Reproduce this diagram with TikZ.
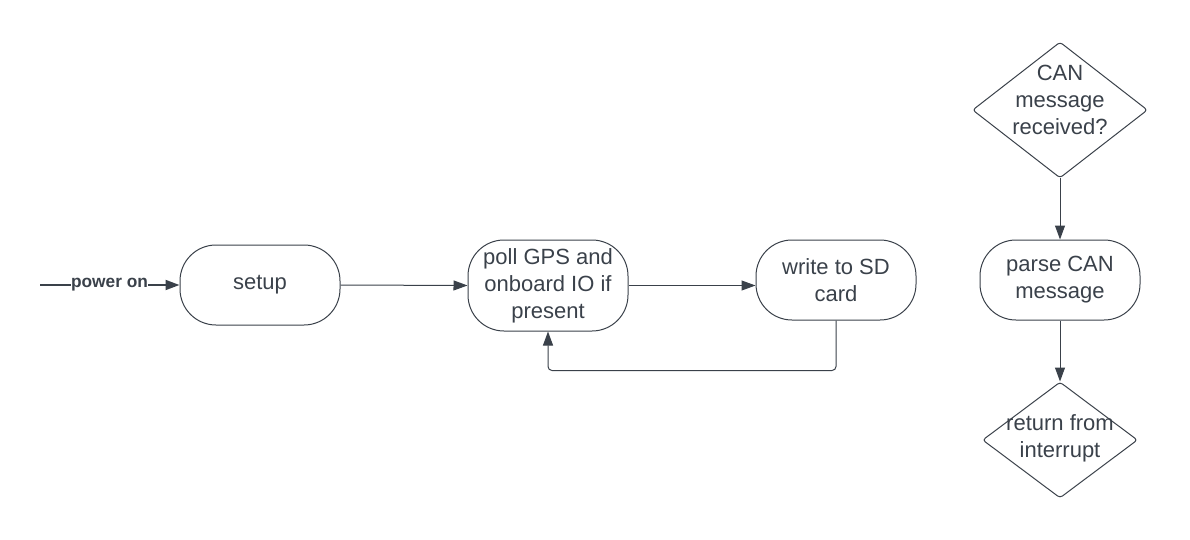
\documentclass[tikz,border=0pt]{standalone}
\usepackage{fontspec}
\setmainfont{Liberation Sans}
\usetikzlibrary{shapes.geometric,arrows.meta}
\definecolor{ink}{HTML}{3A414A}
\tikzset{
  term/.style={draw=ink, line width=1pt, rounded corners=36pt, minimum width=160pt, minimum height=80pt, align=center, inner sep=0pt, font=\fontsize{22}{27}\selectfont, text=ink},
  dec/.style={draw=ink, line width=1pt, diamond, inner sep=0pt, rounded corners=3pt},
  lbl/.style={align=center, inner sep=0pt, font=\fontsize{22}{27}\selectfont, text=ink},
  arr/.style={draw=ink, line width=1pt, -{Triangle[length=14pt,width=10pt]}},
}
\begin{document}
\begin{tikzpicture}[x=1pt,y=-1pt]
\useasboundingbox (0,0) rectangle (1190,540);
\node[term] (setup) at (260,285) {setup};
\node[term, minimum height=91pt] (poll) at (548,285.5) {poll GPS and\\onboard IO if\\present};
\node[term] (write) at (836,280) {write to SD\\card};
\node[term] (parse) at (1060,280) {parse CAN\\message};
\node[dec, minimum width=175pt, minimum height=136pt] (can) at (1060,110) {};
\node[lbl] (cantxt) at (1060,100) {CAN\\message\\received?};
\node[dec, minimum width=155pt, minimum height=116pt] (ret) at (1060,440) {};
\node[lbl] (rettxt) at (1060,438) {return from\\interrupt};
\coordinate (start) at (40,285);
\node[inner sep=0pt, text=ink, font=\bfseries\fontsize{17.3}{20}\selectfont] (pw) at (109.5,285) {power on};
\draw[draw=ink, line width=1.8pt] (start) -- (pw.west);
\draw[arr, line width=1.8pt] (pw.east) -- (setup.west);
\draw[arr] (setup.east) -- (poll.west);
\draw[arr] (poll.east) -- (poll.east -| write.west);
\draw[arr, rounded corners=4pt] (write.south) -- ++(0,50) -| (poll.south);
\draw[arr] (can.south) -- (parse.north);
\draw[arr] (parse.south) -- (ret.north);
\end{tikzpicture}
\end{document}
